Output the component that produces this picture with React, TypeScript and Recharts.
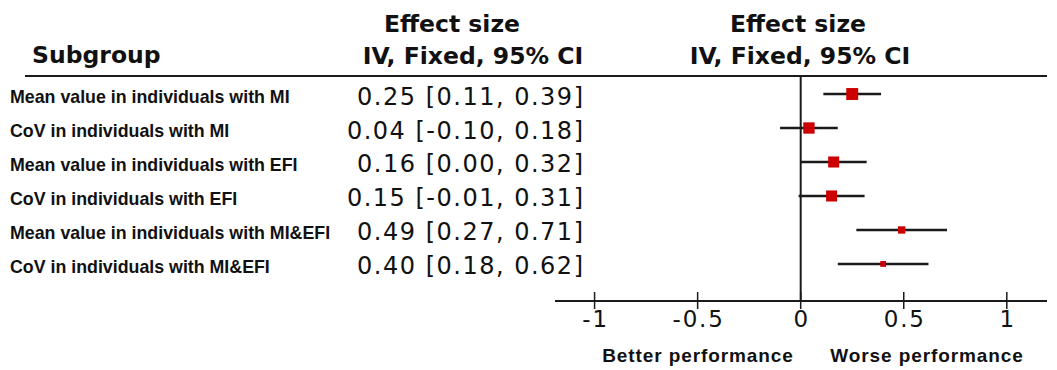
import React from "react";
import { ScatterChart, Scatter, XAxis, YAxis, ErrorBar, ReferenceLine } from "recharts";

const subgroups = [
  "Mean value in individuals with MI",
  "CoV in individuals with MI",
  "Mean value in individuals with EFI",
  "CoV in individuals with EFI",
  "Mean value in individuals with MI&EFI",
  "CoV in individuals with MI&EFI",
];
const effectSizes = [0.25, 0.04, 0.16, 0.15, 0.49, 0.4];
const ciLower = [0.11, -0.1, 0.0, -0.01, 0.27, 0.18];
const ciUpper = [0.39, 0.18, 0.32, 0.31, 0.71, 0.62];
const weights = [21, 19, 18, 18, 8, 5];
const xTicks = [-1, -0.5, 0, 0.5, 1];
const rowTicks = [0, 1, 2, 3, 4, 5];

const data = subgroups.map((name, i) => ({
  row: i,
  name,
  es: effectSizes[i],
  lo: ciLower[i],
  hi: ciUpper[i],
  err: [effectSizes[i] - ciLower[i], ciUpper[i] - effectSizes[i]],
  weight: weights[i],
}));

const fmt = (v: number) => v.toFixed(2);

const BoxShape = (props: any) => {
  const { cx, cy, payload } = props;
  const s = 2.6 * Math.sqrt(payload.weight);
  return <rect x={cx - s / 2} y={cy - s / 2} width={s} height={s} fill="#cc0000" />;
};

const XTick = (props: any) => {
  const { x, y, payload } = props;
  return (
    <g>
      <line x1={x} x2={x} y1={y - 9} y2={y + 8} stroke="#1a1a1a" strokeWidth={1.5} />
      <text x={x + 1} y={y + 26} textAnchor="middle" fontFamily="DejaVu Sans" fontSize={23} letterSpacing={1.8} fill="#111">
        {payload.value}
      </text>
    </g>
  );
};

const YTick = (props: any) => {
  const { y, payload } = props;
  const i = payload.value as number;
  if (i < 0 || i >= subgroups.length) return null;
  return (
    <g>
      <text x={10} y={y + 8.7} fontFamily="Liberation Sans" fontWeight="bold" fontSize={17.8} fill="#111">
        {subgroups[i]}
      </text>
      <text x={584.5} y={y + 10.5} textAnchor="end" fontFamily="DejaVu Sans" fontSize={24} letterSpacing={1.5} fill="#111">
        {`${fmt(effectSizes[i])} [${fmt(ciLower[i])}, ${fmt(ciUpper[i])}]`}
      </text>
    </g>
  );
};

export default function App() {
  return (
    <div style={{ position: "absolute", left: 0, top: 0, width: 1057, height: 370, background: "#fff" }}>
      <ScatterChart
        width={1057}
        height={370}
        margin={{ top: 76, right: 10, bottom: 9, left: 554 }}
      >
        <XAxis
          type="number"
          dataKey="es"
          domain={[-1.192, 1.195]}
          ticks={xTicks}
          allowDataOverflow
          height={60}
          tickSize={0}
          tickMargin={0}
          tickLine={false}
          axisLine={{ stroke: "#1a1a1a", strokeWidth: 2 }}
          tick={<XTick />}
          interval={0}
        />
        <YAxis
          type="number"
          dataKey="row"
          domain={[-0.53, 6.09]}
          reversed
          ticks={rowTicks}
          allowDataOverflow
          width={1}
          axisLine={false}
          tickLine={false}
          tick={<YTick />}
          interval={0}
        />
        <ReferenceLine x={0} stroke="#1a1a1a" strokeWidth={2} />
        <Scatter data={data} shape={<BoxShape />} isAnimationActive={false}>
          <ErrorBar dataKey="err" direction="x" width={0} stroke="#1a1a1a" strokeWidth={2.5} />
        </Scatter>
      </ScatterChart>
      <svg
        width={1057}
        height={370}
        style={{ position: "absolute", left: 0, top: 0, pointerEvents: "none" }}
      >
        <g fontFamily="DejaVu Sans" fontWeight="bold" fontSize={23.5} fill="#111">
          <text x={452} y={32} textAnchor="middle">Effect size</text>
          <text x={32} y={63}>Subgroup</text>
          <text x={473} y={64} textAnchor="middle">IV, Fixed, 95% CI</text>
          <text x={798} y={32} textAnchor="middle">Effect size</text>
          <text x={800} y={64} textAnchor="middle">IV, Fixed, 95% CI</text>
        </g>
        <line x1={25} x2={1047} y1={76} y2={76} stroke="#1a1a1a" strokeWidth={2} />
        <g fontFamily="Liberation Sans" fontWeight="bold" fontSize={19} letterSpacing={0.9} fill="#111">
          <text x={698} y={362} textAnchor="middle">Better performance</text>
          <text x={927} y={362} textAnchor="middle">Worse performance</text>
        </g>
      </svg>
    </div>
  );
}
